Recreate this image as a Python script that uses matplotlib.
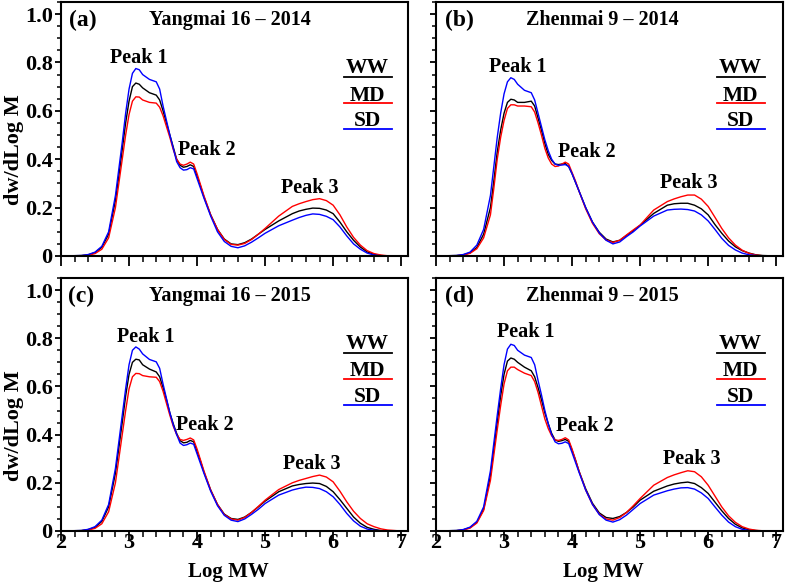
import matplotlib
matplotlib.use("Agg")
import matplotlib.pyplot as plt
from matplotlib.ticker import MultipleLocator

plt.rcParams['font.family'] = ['Liberation Serif', 'DejaVu Serif']
plt.rcParams['font.weight'] = 'bold'

# ---------------- data ----------------
log_mw = [2.0, 2.3, 2.4, 2.5, 2.6, 2.7, 2.8, 2.85, 2.9, 2.95, 3.0, 3.05, 3.1, 3.15, 3.2, 3.3, 3.4,
          3.45, 3.5, 3.55, 3.6, 3.65, 3.7, 3.75, 3.8, 3.85, 3.9, 3.95, 4.0, 4.05, 4.1, 4.2, 4.3, 4.4,
          4.5, 4.6, 4.7, 4.8, 4.9, 5.0, 5.2, 5.4, 5.5, 5.6, 5.7, 5.8, 5.9, 6.0, 6.1, 6.2, 6.3,
          6.4, 6.5, 6.6, 6.7, 6.8, 7.0, 7.1]

# Panel (a) Yangmai 16 - 2014
a_ww = [0, 0.002, 0.005, 0.014, 0.036, 0.09, 0.23, 0.33, 0.44, 0.55, 0.64, 0.70, 0.715, 0.71, 0.695, 0.675, 0.665,
        0.645, 0.60, 0.55, 0.50, 0.45, 0.40, 0.375, 0.367, 0.37, 0.377, 0.37, 0.33, 0.29, 0.245, 0.17, 0.11, 0.07,
        0.05, 0.047, 0.055, 0.07, 0.09, 0.11, 0.145, 0.175, 0.186, 0.193, 0.198, 0.197, 0.19, 0.175, 0.14, 0.10, 0.065,
        0.037, 0.017, 0.007, 0.002, 0, 0, 0]
a_md = [0, 0.001, 0.003, 0.01, 0.028, 0.075, 0.20, 0.30, 0.40, 0.50, 0.585, 0.64, 0.658, 0.657, 0.645, 0.635, 0.632,
        0.615, 0.58, 0.535, 0.49, 0.44, 0.40, 0.38, 0.375, 0.38, 0.388, 0.38, 0.34, 0.295, 0.25, 0.17, 0.11, 0.068,
        0.048, 0.045, 0.052, 0.068, 0.09, 0.114, 0.165, 0.205, 0.216, 0.225, 0.233, 0.237, 0.229, 0.21, 0.17, 0.12, 0.077,
        0.045, 0.022, 0.01, 0.004, 0.001, 0, 0]
a_sd = [0, 0.002, 0.006, 0.016, 0.04, 0.10, 0.25, 0.36, 0.47, 0.59, 0.69, 0.755, 0.775, 0.77, 0.75, 0.73, 0.72,
        0.69, 0.62, 0.56, 0.50, 0.445, 0.39, 0.365, 0.355, 0.357, 0.365, 0.36, 0.32, 0.28, 0.24, 0.165, 0.10, 0.06,
        0.04, 0.034, 0.042, 0.057, 0.075, 0.094, 0.125, 0.148, 0.159, 0.168, 0.174, 0.172, 0.164, 0.15, 0.12, 0.083, 0.05,
        0.028, 0.012, 0.004, 0.001, 0, 0, 0]

# Panel (b) Zhenmai 9 - 2014
b_ww = [0, 0.002, 0.005, 0.013, 0.035, 0.09, 0.20, 0.31, 0.43, 0.52, 0.59, 0.635, 0.648, 0.645, 0.635, 0.635, 0.64,
        0.62, 0.57, 0.52, 0.465, 0.42, 0.395, 0.38, 0.378, 0.38, 0.382, 0.37, 0.34, 0.305, 0.27, 0.20, 0.14, 0.098,
        0.07, 0.058, 0.065, 0.085, 0.105, 0.127, 0.176, 0.21, 0.216, 0.218, 0.218, 0.21, 0.195, 0.17, 0.13, 0.094, 0.062,
        0.038, 0.022, 0.012, 0.005, 0.002, 0, 0]
b_md = [0, 0.001, 0.004, 0.011, 0.03, 0.075, 0.17, 0.28, 0.40, 0.49, 0.56, 0.61, 0.625, 0.625, 0.62, 0.62, 0.617,
        0.595, 0.55, 0.50, 0.445, 0.405, 0.38, 0.37, 0.372, 0.38, 0.388, 0.38, 0.345, 0.31, 0.27, 0.195, 0.135, 0.092,
        0.066, 0.056, 0.065, 0.087, 0.108, 0.128, 0.19, 0.225, 0.236, 0.245, 0.252, 0.252, 0.235, 0.205, 0.16, 0.114, 0.075,
        0.045, 0.024, 0.011, 0.004, 0.001, 0, 0]
b_sd = [0, 0.002, 0.006, 0.016, 0.045, 0.11, 0.25, 0.37, 0.49, 0.59, 0.67, 0.72, 0.737, 0.73, 0.71, 0.685, 0.675,
        0.645, 0.59, 0.535, 0.48, 0.435, 0.40, 0.38, 0.375, 0.376, 0.378, 0.37, 0.34, 0.305, 0.27, 0.20, 0.14, 0.095,
        0.065, 0.05, 0.058, 0.08, 0.10, 0.124, 0.165, 0.19, 0.193, 0.194, 0.192, 0.186, 0.17, 0.145, 0.11, 0.073, 0.044,
        0.025, 0.012, 0.005, 0.002, 0, 0, 0]

# Panel (c) Yangmai 16 - 2015
c_ww = [0, 0.002, 0.006, 0.015, 0.04, 0.10, 0.24, 0.345, 0.45, 0.56, 0.65, 0.70, 0.713, 0.71, 0.69, 0.672, 0.66,
        0.64, 0.595, 0.545, 0.49, 0.445, 0.405, 0.375, 0.366, 0.368, 0.376, 0.37, 0.33, 0.29, 0.245, 0.17, 0.11, 0.07,
        0.052, 0.048, 0.058, 0.077, 0.10, 0.124, 0.163, 0.187, 0.193, 0.197, 0.199, 0.197, 0.185, 0.163, 0.13, 0.094, 0.058,
        0.032, 0.015, 0.007, 0.002, 0, 0, 0]
c_md = [0, 0.001, 0.004, 0.011, 0.03, 0.08, 0.20, 0.30, 0.40, 0.50, 0.59, 0.64, 0.654, 0.653, 0.645, 0.64, 0.638,
        0.62, 0.58, 0.53, 0.48, 0.435, 0.40, 0.38, 0.376, 0.38, 0.386, 0.378, 0.34, 0.295, 0.25, 0.17, 0.11, 0.068,
        0.05, 0.045, 0.056, 0.077, 0.102, 0.128, 0.172, 0.20, 0.21, 0.218, 0.226, 0.232, 0.224, 0.204, 0.165, 0.121, 0.082,
        0.052, 0.03, 0.018, 0.009, 0.004, 0, 0]
c_sd = [0, 0.002, 0.007, 0.018, 0.045, 0.11, 0.26, 0.37, 0.48, 0.59, 0.69, 0.75, 0.764, 0.755, 0.735, 0.712, 0.702,
        0.675, 0.61, 0.55, 0.49, 0.44, 0.40, 0.365, 0.355, 0.358, 0.365, 0.36, 0.32, 0.28, 0.24, 0.165, 0.105, 0.065,
        0.045, 0.039, 0.05, 0.069, 0.09, 0.114, 0.149, 0.17, 0.177, 0.182, 0.181, 0.176, 0.163, 0.142, 0.11, 0.073, 0.042,
        0.02, 0.008, 0.003, 0.001, 0, 0, 0]

# Panel (d) Zhenmai 9 - 2015
d_ww = [0, 0.002, 0.005, 0.014, 0.036, 0.09, 0.23, 0.34, 0.45, 0.56, 0.65, 0.705, 0.718, 0.713, 0.70, 0.68, 0.665,
        0.64, 0.595, 0.545, 0.49, 0.445, 0.405, 0.378, 0.372, 0.375, 0.38, 0.372, 0.335, 0.295, 0.25, 0.175, 0.115, 0.075,
        0.056, 0.052, 0.06, 0.077, 0.10, 0.128, 0.165, 0.187, 0.195, 0.20, 0.203, 0.197, 0.18, 0.156, 0.12, 0.084, 0.052,
        0.028, 0.013, 0.005, 0.002, 0, 0, 0]
d_md = [0, 0.001, 0.004, 0.012, 0.033, 0.085, 0.21, 0.315, 0.42, 0.52, 0.61, 0.665, 0.68, 0.68, 0.67, 0.655, 0.645,
        0.62, 0.575, 0.52, 0.465, 0.425, 0.395, 0.378, 0.376, 0.38, 0.387, 0.378, 0.34, 0.295, 0.25, 0.17, 0.11, 0.07,
        0.05, 0.045, 0.056, 0.077, 0.105, 0.135, 0.19, 0.222, 0.233, 0.242, 0.25, 0.246, 0.225, 0.19, 0.145, 0.10, 0.063,
        0.036, 0.018, 0.008, 0.003, 0.001, 0, 0]
d_sd = [0, 0.002, 0.006, 0.016, 0.04, 0.10, 0.25, 0.365, 0.48, 0.59, 0.69, 0.755, 0.775, 0.77, 0.75, 0.73, 0.72,
        0.69, 0.625, 0.565, 0.50, 0.445, 0.40, 0.37, 0.362, 0.364, 0.37, 0.363, 0.325, 0.285, 0.245, 0.17, 0.11, 0.068,
        0.045, 0.037, 0.047, 0.066, 0.09, 0.114, 0.149, 0.167, 0.174, 0.179, 0.18, 0.174, 0.158, 0.135, 0.10, 0.066, 0.037,
        0.018, 0.007, 0.002, 0, 0, 0, 0]

treatments = ['WW', 'MD', 'SD']
panel_letters = ['(a)', '(b)', '(c)', '(d)']
panel_titles = ['Yangmai 16 – 2014', 'Zhenmai 9 – 2014', 'Yangmai 16 – 2015', 'Zhenmai 9 – 2015']
ytick_values = [0, 0.2, 0.4, 0.6, 0.8, 1.0]
ytick_labels = ['0', '0.2', '0.4', '0.6', '0.8', '1.0']
xtick_values = [2, 3, 4, 5, 6, 7]

panel_series = [[a_ww, a_md, a_sd], [b_ww, b_md, b_sd], [c_ww, c_md, c_sd], [d_ww, d_md, d_sd]]
# label positions (x, y) for Peak 1/2/3 in each panel
peak_pos = [[(3.14, 0.82), (4.15, 0.438), (5.66, 0.282)],
            [(3.20, 0.782), (4.21, 0.431), (5.72, 0.303)],
            [(3.245, 0.806), (4.11, 0.438), (5.69, 0.28)],
            [(3.32, 0.826), (4.18, 0.434), (5.76, 0.30)]]
letter_x = [2.32, 2.35, 2.30, 2.35]
title_x = [4.485, 4.44, 4.49, 4.44]

colors = ['#000000', '#ff0000', '#0000ff']

W, H = 787, 586
fig = plt.figure(figsize=(W / 100, H / 100), dpi=100)
boxes = [(61, 2, 408, 256), (436, 2, 783, 256), (61, 278, 408, 531), (436, 278, 783, 531)]

for i, (l, t, r, b) in enumerate(boxes):
    ax = fig.add_axes([l / W, (H - b) / H, (r - l) / W, (b - t) / H])
    for s, c in zip(panel_series[i], colors):
        ax.plot(log_mw, s, color=c, lw=1.0, solid_joinstyle='round')
    ax.set_xlim(2, 7.1)
    ax.set_ylim(0, 1.05)
    ax.set_xticks(xtick_values)
    ax.xaxis.set_minor_locator(MultipleLocator(0.2))
    ax.set_yticks(ytick_values)
    ax.yaxis.set_minor_locator(MultipleLocator(0.05))
    ax.tick_params(axis='x', which='major', direction='out', length=7, width=1.3,
                   labelsize=16, pad=-5.5)
    ax.tick_params(axis='x', which='minor', direction='out', length=4.5, width=1.1)
    ax.tick_params(axis='y', which='major', direction='out', length=4.5, width=1.3,
                   labelsize=16, pad=1.5)
    ax.tick_params(axis='y', which='minor', direction='out', length=3, width=1.1)
    for sp in ax.spines.values():
        sp.set_linewidth(1.5)
    if i in (0, 2):
        ax.set_yticklabels(ytick_labels, fontweight='bold')
        ax.set_ylabel('dw/dLog M', fontsize=16, fontweight='bold')
        ax.yaxis.set_label_coords(-0.106, 0.417)
    else:
        ax.set_yticklabels([])
    if i in (2, 3):
        ax.set_xticklabels([str(v) for v in xtick_values], fontweight='bold')
        ax.set_xlabel('Log MW', fontsize=15, fontweight='bold')
        ax.xaxis.set_label_coords(0.482, -0.122)
    else:
        ax.set_xticklabels([])
    ax.text(letter_x[i], 0.975, panel_letters[i], fontsize=17, fontweight='bold',
            ha='center', va='center')
    ax.text(title_x[i], 0.975, panel_titles[i], fontsize=14.5, fontweight='bold',
            ha='center', va='center')
    for k, (px, py) in enumerate(peak_pos[i]):
        ax.text(px, py, 'Peak %d' % (k + 1), fontsize=14.5, fontweight='bold',
                ha='center', va='center')
    # legend: label text with a colored line under it
    lx = 6.5 if i in (0, 2) else 6.47
    text_y = [0.776, 0.662, 0.558]
    line_y = [0.738, 0.631, 0.525]
    for name, c, ty, lyy in zip(treatments, colors, text_y, line_y):
        ax.text(lx, ty, name, fontsize=15.5, fontweight='bold', ha='center', va='center')
        ax.plot([lx - 0.34, lx + 0.36], [lyy, lyy], color=c, lw=1.3)

fig.savefig('out.png', dpi=100)
